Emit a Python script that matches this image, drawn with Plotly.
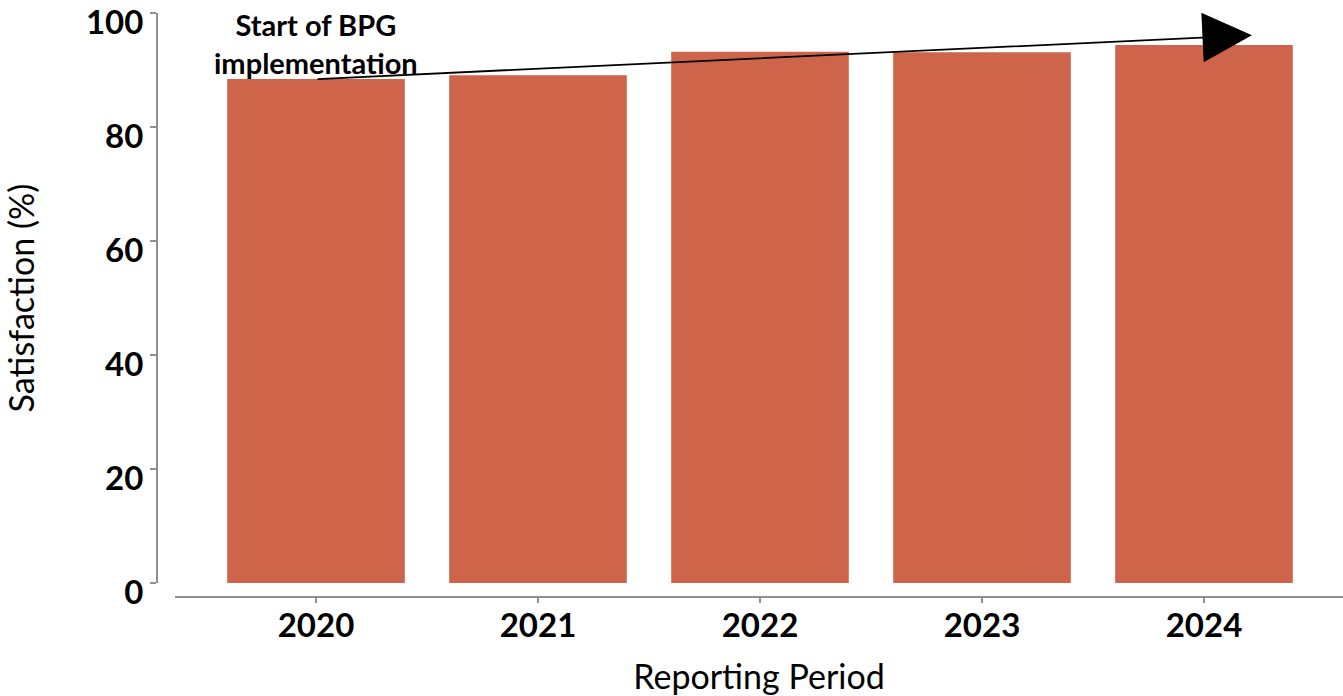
import plotly.graph_objects as go

# ---- data ----
years = ["2020", "2021", "2022", "2023", "2024"]
satisfaction = [88.4, 89.1, 93.2, 93.1, 94.4]
y_tick_values = [0, 20, 40, 60, 80, 100]
annotation_text = "Start of BPG<br>implementation"
trend_start = (0, 88.4)      # (category index, value)
trend_end = (4.216, 96.1)

W, H = 1343, 696
FONT = "Lato"
BAR = "#CE6449"
AXIS = "#8f8f8f"

fig = go.Figure(
    go.Bar(
        x=years,
        y=satisfaction,
        width=0.8,
        marker=dict(color=BAR, line=dict(width=0)),
        hoverinfo="x+y",
    )
)

ml, mr, mt, mb = 157, 0, 13, 99
plot_w = W - ml - mr
plot_h = H - mt - mb

fig.update_layout(
    width=W,
    height=H,
    margin=dict(l=ml, r=mr, t=mt, b=mb, autoexpand=False),
    paper_bgcolor="white",
    plot_bgcolor="white",
    showlegend=False,
    font=dict(family=FONT, color="black"),
    xaxis=dict(
        type="category",
        domain=[(175 - ml) / plot_w, 1],
        anchor="free",
        position=0,
        range=[(175 - 316) / 222, (1343 - 316) / 222],
        showline=True,
        linecolor=AXIS,
        linewidth=2,
        ticks="outside",
        ticklen=5,
        tickwidth=2,
        tickcolor=AXIS,
        showgrid=False,
        zeroline=False,
        ticklabelstandoff=-6,
        tickfont=dict(family=FONT, size=33, color="black", weight="bold"),
        title=dict(text="Reporting Period", font=dict(family=FONT, size=34, color="black"), standoff=22),
        automargin=False,
    ),
    yaxis=dict(
        domain=[14 / plot_h, 1],
        anchor="free",
        position=0,
        range=[0, 100],
        tickvals=y_tick_values,
        showline=True,
        linecolor=AXIS,
        linewidth=2,
        ticks="outside",
        ticklen=6,
        tickwidth=2,
        tickcolor=AXIS,
        showgrid=False,
        zeroline=False,
        ticklabelshift=9,
        ticklabeloverflow="allow",
        tickfont=dict(family=FONT, size=33, color="black", weight="bold"),
        title=dict(text="Satisfaction (%)", font=dict(family=FONT, size=34, color="black"), standoff=50),
        automargin=False,
    ),
    bargap=0.2,
)

fig.add_annotation(
    x=trend_end[0], y=trend_end[1], xref="x", yref="y",
    ax=trend_start[0], ay=trend_start[1], axref="x", ayref="y",
    text="", showarrow=True, arrowhead=2, arrowsize=5.5, arrowwidth=1.8,
    arrowcolor="black",
)
fig.add_annotation(
    x=0, y=94.7, xref="x", yref="y",
    text=annotation_text, showarrow=False,
    xanchor="center", yanchor="middle",
    font=dict(family=FONT, size=29, color="black", weight="bold"),
)

fig.write_html("out.html")
